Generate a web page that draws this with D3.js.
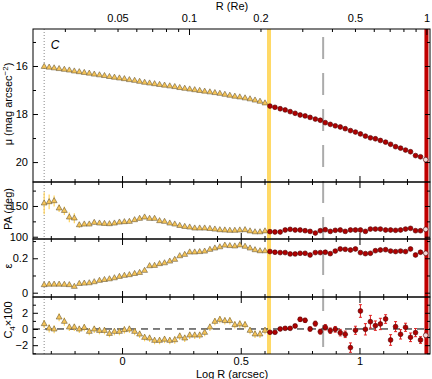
<!DOCTYPE html>
<html>
<head>
<meta charset="utf-8">
<script src="https://d3js.org/d3.v7.min.js"></script>
<style>
body { margin: 0; background: #fff; }
svg { font-family: "Liberation Sans", Arial, sans-serif; }
.axis path { display: none; }
.axis line { stroke: #000; stroke-width: 1; }
.axis text { font-size: 11px; fill: #000; }
.title { font-size: 11px; fill: #000; }
</style>
</head>
<body>
<div id="chart"></div>
<script>
//Chart values
var logRIn = [-0.328, -0.307, -0.286, -0.265, -0.243, -0.222, -0.201, -0.180, -0.159, -0.138,
    -0.117, -0.095, -0.074, -0.053, -0.032, -0.011, 0.010, 0.031, 0.053, 0.074,
    0.095, 0.116, 0.137, 0.158, 0.179, 0.201, 0.222, 0.243, 0.264, 0.285,
    0.306, 0.327, 0.348, 0.370, 0.391, 0.412, 0.433, 0.454, 0.475, 0.496,
    0.518, 0.539, 0.560, 0.581, 0.602];
var logROut = [0.623, 0.644, 0.666, 0.687, 0.708, 0.729, 0.750, 0.771, 0.792, 0.814,
    0.835, 0.856, 0.877, 0.898, 0.919, 0.940, 0.962, 0.983, 1.004, 1.025,
    1.046, 1.067, 1.088, 1.110, 1.131, 1.152, 1.173, 1.194, 1.215, 1.236,
    1.257, 1.279];

var muIn = [16.03, 16.06, 16.09, 16.12, 16.15, 16.18, 16.22, 16.25, 16.28, 16.31,
    16.35, 16.38, 16.41, 16.45, 16.48, 16.51, 16.54, 16.58, 16.61, 16.65,
    16.69, 16.72, 16.75, 16.78, 16.81, 16.84, 16.87, 16.91, 16.94, 16.97,
    17.00, 17.03, 17.06, 17.09, 17.12, 17.15, 17.19, 17.23, 17.27, 17.30,
    17.34, 17.38, 17.43, 17.48, 17.55];
var muOut = [17.67, 17.72, 17.78, 17.83, 17.90, 17.97, 18.04, 18.08, 18.14, 18.21,
    18.26, 18.36, 18.43, 18.49, 18.54, 18.61, 18.69, 18.75, 18.83, 18.92,
    18.99, 19.03, 19.10, 19.17, 19.26, 19.36, 19.42, 19.50, 19.57, 19.73,
    19.78, 19.90];

var paIn = [154.4, 156.5, 158.1, 146.3, 142.3, 131.6, 130.0, 119.0, 120.2, 120.2,
    122.9, 121.8, 121.2, 120.7, 121.8, 123.4, 124.0, 124.5, 127.2, 129.4,
    131.6, 129.4, 129.4, 125.6, 124.5, 121.8, 120.2, 117.9, 116.3, 115.3,
    113.7, 113.7, 113.7, 113.0, 112.0, 110.9, 110.5, 110.0, 110.0, 110.5,
    111.0, 109.0, 107.5, 107.5, 109.0];
var paErrIn = [18, 12, 9, 6, 7, 8, 8, 5, 3, 3,
    3, 3, 3, 3, 3, 3, 3, 3, 3, 3,
    3, 2, 2, 2, 2, 2, 2, 2, 2, 2,
    2, 2, 2, 2, 2, 2, 2, 2, 2, 2,
    2, 2, 2, 2, 2];
var paOut = [108.2, 107.7, 107.7, 110.9, 112.0, 110.9, 110.9, 109.8, 108.7, 106.0,
    109.8, 111.4, 108.7, 110.4, 110.9, 108.7, 110.9, 110.9, 110.9, 108.7,
    112.5, 112.5, 112.5, 110.9, 110.9, 110.4, 110.9, 112.5, 113.6, 109.8,
    109.8, 112.0];

var epsIn = [0.045, 0.048, 0.048, 0.048, 0.047, 0.045, 0.035, 0.052, 0.054, 0.056,
    0.062, 0.070, 0.075, 0.079, 0.085, 0.093, 0.099, 0.103, 0.110, 0.116,
    0.128, 0.155, 0.157, 0.167, 0.172, 0.182, 0.192, 0.213, 0.221, 0.235,
    0.235, 0.237, 0.240, 0.250, 0.258, 0.265, 0.275, 0.272, 0.270, 0.276,
    0.268, 0.258, 0.248, 0.242, 0.242];
var epsOut = [0.239, 0.235, 0.233, 0.233, 0.225, 0.225, 0.229, 0.229, 0.219, 0.233,
    0.233, 0.235, 0.227, 0.242, 0.254, 0.252, 0.248, 0.254, 0.233, 0.227,
    0.229, 0.244, 0.248, 0.250, 0.242, 0.239, 0.242, 0.239, 0.254, 0.219,
    0.235, 0.229];

var c4In = [0.62, 0.08, -0.04, 1.44, 0.91, 0.21, 0.21, -0.04, 0.16, -0.33,
    -0.04, -0.21, -0.21, -0.58, -0.33, -0.33, -0.12, -0.04, -0.33, -0.66,
    -1.07, -1.15, -1.44, -1.44, -1.30, -1.44, -1.36, -0.90, -1.15, -0.78,
    -0.78, -0.78, -0.45, 0.21, 0.91, 1.15, 1.00, 1.00, 0.50, 0.60,
    0.50, -0.20, -0.65, -0.65, -0.20];
var c4ErrIn = [0.5, 0.5, 0.5, 0.5, 0.5, 0.45, 0.45, 0.45, 0.45, 0.45,
    0.45, 0.45, 0.45, 0.45, 0.45, 0.45, 0.45, 0.45, 0.45, 0.45,
    0.45, 0.45, 0.45, 0.45, 0.45, 0.45, 0.45, 0.45, 0.45, 0.45,
    0.45, 0.45, 0.45, 0.45, 0.45, 0.45, 0.45, 0.45, 0.45, 0.45,
    0.45, 0.45, 0.45, 0.45, 0.45];
var c4Out = [-0.41, -0.41, 0.00, 0.08, 0.08, 0.37, 1.19, 1.07, 0.00, 0.66,
    -0.33, 0.21, -0.21, -0.04, -0.45, -0.66, -2.30, -0.16, 2.22, -0.04,
    0.90, 0.41, 0.62, 1.23, -1.36, 0.29, -0.66, 0.21, -1.03, -0.45,
    -1.36, -0.78];
var c4ErrOut = [0.12, 0.12, 0.15, 0.15, 0.15, 0.20, 0.25, 0.25, 0.25, 0.30,
    0.30, 0.33, 0.33, 0.35, 0.40, 0.40, 0.58, 0.50, 0.78, 0.70,
    0.78, 0.58, 0.70, 0.53, 0.66, 0.62, 0.58, 0.50, 0.53, 0.50,
    0.41, 0.30];

//Axis ticks
var xMajor = [0, 0.5, 1];
var xMinor = [-0.3, -0.2, -0.1, 0.1, 0.2, 0.3, 0.4, 0.6, 0.7, 0.8, 0.9, 1.1, 1.2];
var reMajor = [0.1, 1];
var reMinor = [0.03, 0.04, 0.05, 0.06, 0.07, 0.08, 0.09, 0.2, 0.3, 0.4, 0.5, 0.6, 0.7, 0.8, 0.9];
var reLabels = [0.05, 0.1, 0.2, 0.5, 1];

//Marker lines (log R)
var logRe = 1.282;
var logRDotted = -0.328;
var logRYellow = 0.619;
var logRDashed = 0.847;

//Create SVG
var svgWidth = 432;
var svgHeight = 379;
var plotLeft = 33;
var plotRight = 430;
var plotTop = 29;
var plotBottom = 354;

var svg = d3.select("#chart")
    .append("svg")
    .attr("width", svgWidth)
    .attr("height", svgHeight);

var x = d3.scaleLinear().domain([-0.375, 1.297]).range([plotLeft, plotRight]);
var xRe = d3.scaleLog()
    .domain([Math.pow(10, -0.375 - logRe), Math.pow(10, 1.297 - logRe)])
    .range([plotLeft, plotRight]);

var fmt = d3.format("~g");

//Panels, top to bottom
var panels = [
    {top: 29, bottom: 182, domain: [14.46, 20.83], major: [16, 18, 20], minor: [15, 17, 19],
        inner: muIn, outer: muOut},
    {top: 182, bottom: 239, domain: [189, 96.3], major: [100, 150], minor: [125, 175],
        inner: paIn, outer: paOut, innerErr: paErrIn},
    {top: 239, bottom: 297, domain: [0.312, -0.025], major: [0, 0.2], minor: [0.1, 0.3],
        inner: epsIn, outer: epsOut},
    {top: 297, bottom: 354, domain: [3.95, -3.09], major: [-2, 0, 2], minor: [-3, -1, 1, 3],
        inner: c4In, outer: c4Out, innerErr: c4ErrIn, outerErr: c4ErrOut, zero: true}
];

var lineGroup = svg.append("g");
var axisGroup = svg.append("g");
var pointGroup = svg.append("g");

//Vertical marker lines behind points
lineGroup.append("line")
    .attr("x1", x(logRYellow)).attr("x2", x(logRYellow))
    .attr("y1", plotTop).attr("y2", plotBottom)
    .attr("stroke", "#ffd966").attr("stroke-width", 4);
lineGroup.append("line")
    .attr("x1", x(logRDashed)).attr("x2", x(logRDashed))
    .attr("y1", plotTop).attr("y2", plotBottom)
    .attr("stroke", "#ababab").attr("stroke-width", 2)
    .attr("stroke-dasharray", "22,14").attr("stroke-dashoffset", -8);
lineGroup.append("line")
    .attr("x1", x(logRDotted)).attr("x2", x(logRDotted))
    .attr("y1", plotTop).attr("y2", plotBottom)
    .attr("stroke", "#888").attr("stroke-width", 1)
    .attr("stroke-dasharray", "1,2");
lineGroup.append("line")
    .attr("x1", x(logRe)).attr("x2", x(logRe))
    .attr("y1", plotTop).attr("y2", plotBottom)
    .attr("stroke", "#c00000").attr("stroke-width", 4);

var tri = d3.symbol().type(d3.symbolTriangle).size(15);

panels.forEach(function(p, k) {
    var y = d3.scaleLinear().domain(p.domain).range([p.top, p.bottom]);
    var last = k === panels.length - 1;

    //Frame
    axisGroup.append("rect")
        .attr("x", plotLeft).attr("y", p.top)
        .attr("width", plotRight - plotLeft).attr("height", p.bottom - p.top)
        .attr("fill", "none").attr("stroke", "#000").attr("stroke-width", 1);

    //Bottom x ticks (pointing up)
    axisGroup.append("g").attr("class", "axis")
        .attr("transform", `translate(0, ${p.bottom})`)
        .call(d3.axisBottom(x).tickValues(xMinor).tickSize(-3).tickFormat(""));
    axisGroup.append("g").attr("class", "axis")
        .attr("transform", `translate(0, ${p.bottom})`)
        .call(d3.axisBottom(x).tickValues(xMajor).tickSize(-6).tickPadding(3)
            .tickFormat(last ? fmt : ""));

    //Top x ticks (pointing down)
    if (k === 0) {
        axisGroup.append("g").attr("class", "axis")
            .attr("transform", `translate(0, ${p.top})`)
            .call(d3.axisTop(xRe).tickValues(reMinor).tickSize(-3).tickFormat(""));
        axisGroup.append("g").attr("class", "axis")
            .attr("transform", `translate(0, ${p.top})`)
            .call(d3.axisTop(xRe).tickValues(reMajor).tickSize(-6).tickFormat(""));
        axisGroup.append("g").attr("class", "axis")
            .attr("transform", `translate(0, ${p.top})`)
            .call(d3.axisTop(xRe).tickValues(reLabels).tickSize(0).tickPadding(7)
                .tickFormat(fmt));
    } else {
        axisGroup.append("g").attr("class", "axis")
            .attr("transform", `translate(0, ${p.top})`)
            .call(d3.axisTop(x).tickValues(xMinor).tickSize(-3).tickFormat(""));
        axisGroup.append("g").attr("class", "axis")
            .attr("transform", `translate(0, ${p.top})`)
            .call(d3.axisTop(x).tickValues(xMajor).tickSize(-6).tickFormat(""));
    }

    //Y ticks both sides
    axisGroup.append("g").attr("class", "axis")
        .attr("transform", `translate(${plotLeft}, 0)`)
        .call(d3.axisLeft(y).tickValues(p.major).tickSize(-5).tickPadding(5).tickFormat(fmt));
    axisGroup.append("g").attr("class", "axis")
        .attr("transform", `translate(${plotLeft}, 0)`)
        .call(d3.axisLeft(y).tickValues(p.minor).tickSize(-3).tickFormat(""));
    axisGroup.append("g").attr("class", "axis")
        .attr("transform", `translate(${plotRight}, 0)`)
        .call(d3.axisRight(y).tickValues(p.major).tickSize(-5).tickFormat(""));
    axisGroup.append("g").attr("class", "axis")
        .attr("transform", `translate(${plotRight}, 0)`)
        .call(d3.axisRight(y).tickValues(p.minor).tickSize(-3).tickFormat(""));

    if (p.zero) {
        lineGroup.append("line")
            .attr("x1", plotLeft).attr("x2", plotRight)
            .attr("y1", y(0)).attr("y2", y(0))
            .attr("stroke", "#000").attr("stroke-width", 1)
            .attr("stroke-dasharray", "7,5");
    }

    var g = pointGroup.append("g");

    //Error bars
    if (p.innerErr) {
        g.selectAll(".errIn")
            .data(p.inner)
            .enter()
            .append("line")
            .attr("x1", (d, i) => x(logRIn[i]))
            .attr("x2", (d, i) => x(logRIn[i]))
            .attr("y1", (d, i) => y(d - p.innerErr[i]))
            .attr("y2", (d, i) => y(d + p.innerErr[i]))
            .attr("stroke", "#ffd35c").attr("stroke-width", 1.2);
    }
    if (p.outerErr) {
        g.selectAll(".errOut")
            .data(p.outer)
            .enter()
            .append("path")
            .attr("d", function(d, i) {
                var cx = x(logROut[i]);
                var y1 = y(d - p.outerErr[i]);
                var y2 = y(d + p.outerErr[i]);
                return `M${cx},${y1}V${y2}M${cx - 1.5},${y1}H${cx + 1.5}M${cx - 1.5},${y2}H${cx + 1.5}`;
            })
            .attr("fill", "none")
            .attr("stroke", "#e02020").attr("stroke-width", 1);
    }

    //Triangles inside the yellow line
    g.selectAll(".tri")
        .data(p.inner)
        .enter()
        .append("path")
        .attr("d", tri)
        .attr("transform", (d, i) => `translate(${x(logRIn[i])}, ${y(d)})`)
        .attr("fill", "#f6c457")
        .attr("stroke", "#6a5a3a")
        .attr("stroke-width", 0.6);

    //Circles outside
    g.selectAll(".dot")
        .data(p.outer)
        .enter()
        .append("circle")
        .attr("cx", (d, i) => x(logROut[i]))
        .attr("cy", d => y(d))
        .attr("r", 2.4)
        .attr("fill", (d, i) => i === p.outer.length - 1 ? "#f3d6d6" : "#b00000")
        .attr("stroke", "#4a0000")
        .attr("stroke-width", 0.6);
});

//Labels
svg.append("text")
    .attr("class", "title")
    .attr("x", 55).attr("y", 49)
    .attr("text-anchor", "middle")
    .style("font-style", "italic")
    .style("font-size", "12px")
    .text("C");

svg.append("text")
    .attr("class", "title")
    .attr("x", 232).attr("y", 10)
    .attr("text-anchor", "middle")
    .text("R (Re)");

svg.append("text")
    .attr("class", "title")
    .attr("x", 232).attr("y", 378)
    .attr("text-anchor", "middle")
    .text("Log R (arcsec)");

var muTitle = svg.append("text")
    .attr("class", "title")
    .attr("transform", "translate(12, 104) rotate(-90)")
    .attr("text-anchor", "middle");
muTitle.append("tspan").text("\u03bc (mag arcsec");
muTitle.append("tspan").attr("dy", -4).style("font-size", "8px").text("\u22122");
muTitle.append("tspan").attr("dy", 4).text(")");

svg.append("text")
    .attr("class", "title")
    .attr("transform", "translate(12, 209) rotate(-90)")
    .attr("text-anchor", "middle")
    .text("PA (deg)");

svg.append("text")
    .attr("class", "title")
    .attr("transform", "translate(12, 266) rotate(-90)")
    .attr("text-anchor", "middle")
    .text("\u03b5");

var c4Title = svg.append("text")
    .attr("class", "title")
    .attr("transform", "translate(12, 320) rotate(-90)")
    .attr("text-anchor", "middle");
c4Title.append("tspan").text("C");
c4Title.append("tspan").attr("dy", 3).style("font-size", "8px").text("4");
c4Title.append("tspan").attr("dy", -3).text("\u00d7100");
</script>
</body>
</html>
